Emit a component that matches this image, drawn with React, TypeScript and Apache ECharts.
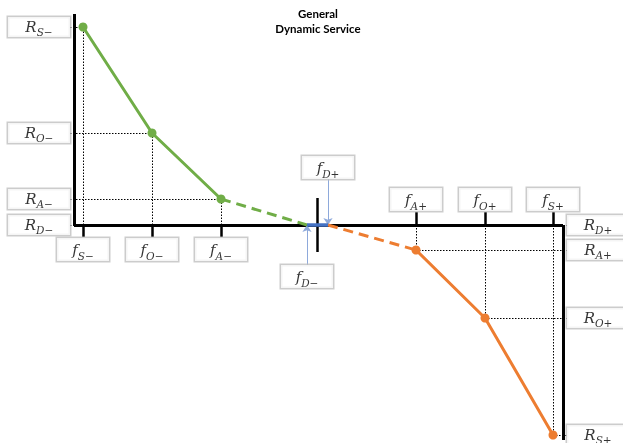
import React, { useEffect, useRef } from 'react';
import * as echarts from 'echarts';

const M = '\u2212';

// Frequency positions (arbitrary units, nominal frequency at 0)
const negF = [-235, -166, -97]; // f_S-, f_O-, f_A-
const negR = [198, 92, 26]; // R_S-, R_O-, R_A-
const negSubs = ['S' + M, 'O' + M, 'A' + M];
const fDminus = -11;
const fDplus = 10;
const posF = [98, 167, 235]; // f_A+, f_O+, f_S+
const posR = [-25, -93, -210]; // R_A+, R_O+, R_S+
const posSubs = ['A+', 'O+', 'S+'];
const xRange = [-244, 245];
const yRange = [-215, 211];
const titleLines = ['General', 'Dynamic Service'];

const GREEN = '#70AD47';
const ORANGE = '#ED7D31';
const BLUE = '#4472C4';
const ARROW = '#8EA9DB';

function rich(h: number) {
  return {
    m: { fontFamily: 'DejaVu Serif', fontStyle: 'italic', fontSize: 15, lineHeight: h, color: '#000', align: 'center' },
    s: { fontFamily: 'DejaVu Serif', fontStyle: 'italic', fontSize: 10.5, lineHeight: h - 6, verticalAlign: 'bottom', color: '#000', align: 'center' },
  };
}

function boxLabel(main: string, sub: string, position: string, distance: number, w: number, h: number) {
  return {
    show: true,
    position,
    distance,
    formatter: `{m|${main}}{s|${sub}}`,
    backgroundColor: '#fff',
    borderColor: '#BFBFBF',
    borderWidth: 1.5,
    width: w,
    height: h,
    padding: 0,
    rich: rich(h),
  };
}

export default function App() {
  const ref = useRef<HTMLDivElement>(null);
  useEffect(() => {
    const chart = echarts.init(ref.current!, undefined, { renderer: 'svg' });
    const [xMin, xMax] = xRange;
    const [yMin, yMax] = yRange;
    const gap = 4;
    const mid = (fDminus + fDplus) / 2;

    const guides: any[] = [];
    negF.forEach((f, i) => {
      guides.push({ coords: [[f, 0], [f, negR[i]]] });
      guides.push({ coords: [[xMin - gap, negR[i]], [f, negR[i]]] });
    });
    posF.forEach((f, i) => {
      guides.push({ coords: [[f, 0], [f, posR[i]]] });
      guides.push({ coords: [[f, posR[i]], [xMax + gap, posR[i]]] });
    });
    guides.push({ coords: [[xMin - gap, 0], [xMin, 0]] });
    guides.push({ coords: [[xMax, 0], [xMax + gap, 0]] });

    const axes = [
      { coords: [[xMin, 0], [xMax, 0]] },
      { coords: [[xMin, 0], [xMin, yMax]] },
      { coords: [[xMax, 0], [xMax, yMin]] },
    ];
    const ticks = [
      ...negF.map((f) => ({ coords: [[f, 0], [f, -12]] })),
      ...posF.map((f) => ({ coords: [[f, 0], [f, 13]] })),
      { coords: [[mid, 27], [mid, -27]] },
    ];

    const labels: any[] = [];
    negF.forEach((f, i) => {
      labels.push({ value: [xMin, negR[i]], label: boxLabel('R', negSubs[i], 'left', gap, 62, 20) });
      labels.push({ value: [f, 0], label: boxLabel('f', negSubs[i], 'bottom', 13, 52, 23) });
    });
    labels.push({ value: [xMin, 0], label: boxLabel('R', 'D' + M, 'left', gap, 62, 20) });
    posF.forEach((f, i) => {
      labels.push({ value: [xMax, posR[i]], label: boxLabel('R', posSubs[i], 'right', gap, 62, 20) });
      labels.push({ value: [f, 0], label: boxLabel('f', posSubs[i], 'top', 14, 52, 23) });
    });
    labels.push({ value: [xMax, 0], label: boxLabel('R', 'D+', 'right', gap, 62, 20) });
    labels.push({ value: [fDminus, 0], label: boxLabel('f', 'D' + M, 'bottom', 40, 52, 23) });
    labels.push({ value: [fDplus, 0], label: boxLabel('f', 'D+', 'top', 46, 52, 23) });

    chart.setOption({
      animation: false,
      grid: { left: 74, right: 60, top: 14, bottom: 3 },
      xAxis: { type: 'value', min: xMin, max: xMax, show: false },
      yAxis: { type: 'value', min: yMin, max: yMax, show: false },
      graphic: [
        {
          type: 'text',
          x: 318,
          y: 6,
          style: {
            text: titleLines.join('\n'),
            fontFamily: 'Lato',
            fontWeight: 'bold',
            fontSize: 11.5,
            lineHeight: 15,
            fill: '#000',
            textAlign: 'center',
            textVerticalAlign: 'top',
          },
        },
      ],
      series: [
        {
          type: 'lines',
          coordinateSystem: 'cartesian2d',
          clip: false,
          z: 1,
          lineStyle: { color: '#000', width: 1, type: [1.5, 1.5], opacity: 1 },
          data: guides,
        },
        {
          type: 'lines',
          coordinateSystem: 'cartesian2d',
          clip: false,
          z: 2,
          lineStyle: { color: '#000', width: 3, opacity: 1 },
          data: axes,
        },
        {
          type: 'lines',
          coordinateSystem: 'cartesian2d',
          clip: false,
          z: 2,
          lineStyle: { color: '#000', width: 2.5, opacity: 1 },
          data: ticks,
        },
        {
          type: 'lines',
          coordinateSystem: 'cartesian2d',
          clip: false,
          z: 3,
          symbol: ['none', 'arrow'],
          symbolSize: 7,
          lineStyle: { color: ARROW, width: 1, opacity: 1 },
          itemStyle: { color: BLUE },
          data: [
            { coords: [[fDminus, -40], [fDminus, 0]] },
            { coords: [[fDplus, 46], [fDplus, 0]] },
          ],
        },
        {
          type: 'line',
          z: 4,
          symbol: 'circle',
          symbolSize: 9,
          itemStyle: { color: GREEN },
          lineStyle: { color: GREEN, width: 3 },
          data: negF.map((f, i) => [f, negR[i]]),
        },
        {
          type: 'line',
          z: 4,
          showSymbol: false,
          lineStyle: { color: GREEN, width: 3, type: [10, 6] },
          data: [[negF[2], negR[2]], [fDminus, 0]],
        },
        {
          type: 'line',
          z: 5,
          showSymbol: false,
          lineStyle: { color: BLUE, width: 3.5 },
          data: [[fDminus, 0], [fDplus, 0]],
        },
        {
          type: 'line',
          z: 4,
          showSymbol: false,
          lineStyle: { color: ORANGE, width: 3, type: [10, 6] },
          data: [[fDplus, 0], [posF[0], posR[0]]],
        },
        {
          type: 'line',
          z: 4,
          symbol: 'circle',
          symbolSize: 9,
          itemStyle: { color: ORANGE },
          lineStyle: { color: ORANGE, width: 3 },
          data: posF.map((f, i) => [f, posR[i]]),
        },
        {
          type: 'scatter',
          z: 10,
          clip: false,
          symbolSize: 0,
          itemStyle: { color: 'rgba(0,0,0,0)' },
          data: labels,
        },
      ],
    });
    return () => chart.dispose();
  }, []);
  return <div ref={ref} style={{ position: 'fixed', left: 0, top: 0, width: 623, height: 443 }} />;
}
